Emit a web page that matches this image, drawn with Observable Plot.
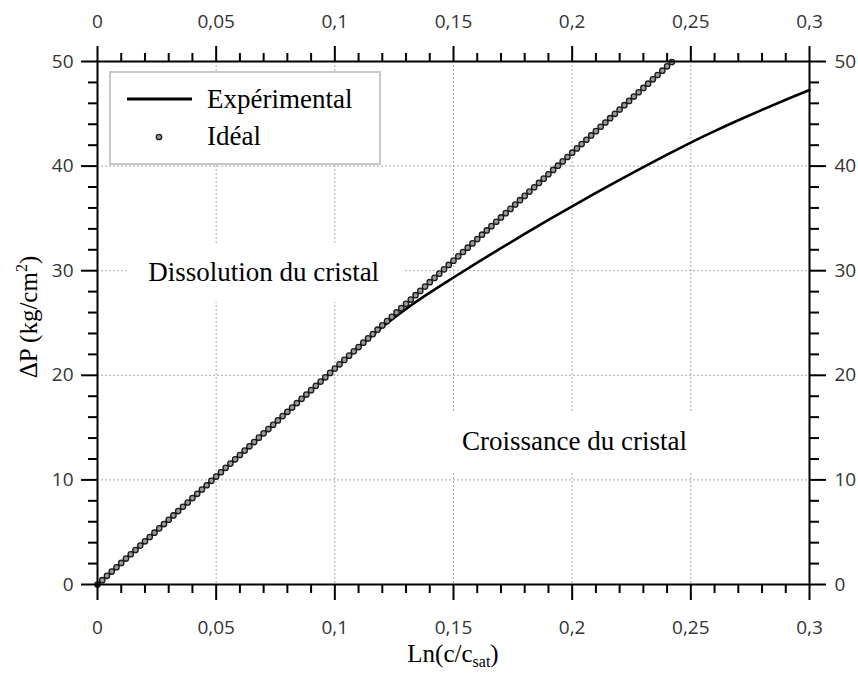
<!DOCTYPE html>
<html>
<head>
<meta charset="utf-8">
<script src="https://cdn.jsdelivr.net/npm/d3@7"></script>
<script src="https://cdn.jsdelivr.net/npm/@observablehq/plot@0.6"></script>
<style>
  html, body { margin: 0; padding: 0; background: white; }
</style>
</head>
<body>
<div id="chart"></div>
<script>
// ---- Data ----
const xTicks = [0, 0.05, 0.1, 0.15, 0.2, 0.25, 0.3];
const xTickLabels = ["0", "0,05", "0,1", "0,15", "0,2", "0,25", "0,3"];
const xMinorTicks = [0.01,0.02,0.03,0.04,0.06,0.07,0.08,0.09,0.11,0.12,0.13,0.14,0.16,0.17,0.18,0.19,0.21,0.22,0.23,0.24,0.26,0.27,0.28,0.29];
const yTicks = [0, 10, 20, 30, 40, 50];
const yMinorTicks = [2,4,6,8,12,14,16,18,22,24,26,28,32,34,36,38,42,44,46,48];

const expX = [0, 0.02, 0.04, 0.06, 0.08, 0.10, 0.11, 0.12, 0.13, 0.14, 0.15, 0.16, 0.17, 0.18, 0.19, 0.20, 0.21, 0.22, 0.23, 0.24, 0.25, 0.26, 0.27, 0.28, 0.29, 0.30];
const expY = [0, 4.13, 8.26, 12.38, 16.51, 20.64, 22.68, 24.62, 26.35, 27.90, 29.35, 30.77, 32.16, 33.52, 34.85, 36.15, 37.43, 38.68, 39.90, 41.09, 42.25, 43.34, 44.38, 45.38, 46.34, 47.27];

// Ideal points
const idealX = [0,0.002,0.004,0.006,0.008,0.01,0.012,0.014,0.016,0.018,0.02,0.022,0.024,0.026,0.028,0.03,0.032,0.034,0.036,0.038,0.04,0.042,0.044,0.046,0.048,0.05,0.052,0.054,0.056,0.058,0.06,0.062,0.064,0.066,0.068,0.07,0.072,0.074,0.076,0.078,0.08,0.082,0.084,0.086,0.088,0.09,0.092,0.094,0.096,0.098,0.1,0.102,0.104,0.106,0.108,0.11,0.112,0.114,0.116,0.118,0.12,0.122,0.124,0.126,0.128,0.13,0.132,0.134,0.136,0.138,0.14,0.142,0.144,0.146,0.148,0.15,0.152,0.154,0.156,0.158,0.16,0.162,0.164,0.166,0.168,0.17,0.172,0.174,0.176,0.178,0.18,0.182,0.184,0.186,0.188,0.19,0.192,0.194,0.196,0.198,0.2,0.202,0.204,0.206,0.208,0.21,0.212,0.214,0.216,0.218,0.22,0.222,0.224,0.226,0.228,0.23,0.232,0.234,0.236,0.238,0.24,0.242];
const idealY = [0,0.41,0.83,1.24,1.65,2.06,2.48,2.89,3.30,3.72,4.13,4.54,4.95,5.37,5.78,6.19,6.60,7.02,7.43,7.84,8.26,8.67,9.08,9.49,9.91,10.32,10.73,11.15,11.56,11.97,12.38,12.80,13.21,13.62,14.04,14.45,14.86,15.27,15.69,16.10,16.51,16.92,17.34,17.75,18.16,18.58,18.99,19.40,19.81,20.23,20.64,21.05,21.47,21.88,22.29,22.70,23.12,23.53,23.94,24.36,24.77,25.18,25.59,26.01,26.42,26.83,27.24,27.66,28.07,28.48,28.90,29.31,29.72,30.13,30.55,30.96,31.37,31.79,32.20,32.61,33.02,33.44,33.85,34.26,34.68,35.09,35.50,35.91,36.33,36.74,37.15,37.56,37.98,38.39,38.80,39.22,39.63,40.04,40.45,40.87,41.28,41.69,42.11,42.52,42.93,43.34,43.76,44.17,44.58,45.00,45.41,45.82,46.23,46.65,47.06,47.47,47.88,48.30,48.71,49.12,49.54,49.95];

const annotText = ["Dissolution du cristal", "Croissance du cristal"];
const annotX = [0.07, 0.201];
const annotY = [29.8, 13.65];

const seriesNames = ["Expérimental", "Idéal"];
const xTitle = ["Ln(c/c", "sat", ")"];
const yTitle = ["ΔP (kg/cm", "2", ")"];

// ---- Build tables ----
const expData = expX.map((x, i) => ({x, y: expY[i]}));
const idealData = idealX.map((x, i) => ({x, y: idealY[i]}));
const annotData = annotText.map((t, i) => ({text: t, x: annotX[i], y: annotY[i]}));

const fmtX = d => { const i = xTicks.findIndex(v => Math.abs(v - d) < 1e-9); return i >= 0 ? xTickLabels[i] : ""; };
const blank = () => "";

const gridStyle = {stroke: "#a8a8a8", strokeOpacity: 1, strokeWidth: 1, strokeDasharray: "2,2"};
const serif = "'Liberation Serif', 'Times New Roman', serif";

const chart = Plot.plot({
  width: 858, height: 673,
  marginLeft: 97, marginRight: 49, marginTop: 61, marginBottom: 89,
  x: {domain: [0, 0.3]},
  y: {domain: [0, 50]},
  style: {fontFamily: "'Open Sans', sans-serif", fontSize: "19px", color: "#333", background: "white"},
  marks: [
    Plot.gridX({ticks: xTicks.slice(1, -1), ...gridStyle}),
    Plot.gridY({ticks: yTicks.slice(1, -1), ...gridStyle}),
    Plot.text(annotData, {x: "x", y: "y", text: "text", fontFamily: serif, fontSize: 27, fill: "black", className: "annot"}),
    Plot.line(expData, {x: "x", y: "y", stroke: "black", strokeWidth: 2.6, curve: "catmull-rom"}),
    Plot.dot(idealData, {x: "x", y: "y", r: 2.7, fill: "#999", stroke: "#1a1a1a", strokeWidth: 1.3}),
    Plot.frame({stroke: "black", strokeWidth: 2}),
    // major ticks
    Plot.axisX({anchor: "bottom", ticks: xTicks, tickSize: 16, tickPadding: 20, tickFormat: fmtX, stroke: "black", strokeWidth: 2, label: null}),
    Plot.axisX({anchor: "top", ticks: xTicks, tickSize: 16, tickPadding: 18, tickFormat: fmtX, stroke: "black", strokeWidth: 2, label: null}),
    Plot.axisY({anchor: "left", ticks: yTicks, tickSize: 16, tickPadding: 8, stroke: "black", strokeWidth: 2, label: null}),
    Plot.axisY({anchor: "right", ticks: yTicks, tickSize: 16, tickPadding: 9, stroke: "black", strokeWidth: 2, label: null}),
    // minor ticks
    Plot.axisX({anchor: "bottom", ticks: xMinorTicks, tickSize: 9, tickFormat: blank, stroke: "black", strokeWidth: 2, label: null}),
    Plot.axisX({anchor: "top", ticks: xMinorTicks, tickSize: 9, tickFormat: blank, stroke: "black", strokeWidth: 2, label: null}),
    Plot.axisY({anchor: "left", ticks: yMinorTicks, tickSize: 9, tickFormat: blank, stroke: "black", strokeWidth: 2, label: null}),
    Plot.axisY({anchor: "right", ticks: yMinorTicks, tickSize: 9, tickFormat: blank, stroke: "black", strokeWidth: 2, label: null})
  ]
});

document.getElementById("chart").appendChild(chart);
const svg = d3.select(chart);

// White boxes behind annotations (hide gridlines)
const annotG = chart.querySelector("g.annot") || Array.from(chart.querySelectorAll("g[aria-label='text']"))[0];
if (annotG) {
  const parent = annotG.parentNode;
  annotG.querySelectorAll("text").forEach(t => {
    const b = t.getBBox();
    let tx = 0, ty = 0;
    const tr = t.getAttribute("transform");
    if (tr) { const m = tr.match(/translate\(([-\d.]+),\s*([-\d.]+)\)/); if (m) { tx = +m[1]; ty = +m[2]; } }
    const r = document.createElementNS("http://www.w3.org/2000/svg", "rect");
    r.setAttribute("x", b.x + tx - 21);
    r.setAttribute("y", b.y + ty - 14);
    r.setAttribute("width", b.width + 45);
    r.setAttribute("height", b.height + 29);
    r.setAttribute("fill", "white");
    parent.insertBefore(r, annotG);
  });
}

// Legend
const leg = svg.append("g").attr("text-anchor", "start");
leg.append("rect").attr("x", 110).attr("y", 72).attr("width", 270).attr("height", 92)
  .attr("fill", "white").attr("stroke", "#c8c8c8").attr("stroke-width", 2);
leg.append("line").attr("x1", 127).attr("x2", 192).attr("y1", 99).attr("y2", 99)
  .attr("stroke", "black").attr("stroke-width", 3);
leg.append("circle").attr("cx", 159).attr("cy", 137).attr("r", 2.7)
  .attr("fill", "#999").attr("stroke", "#1a1a1a").attr("stroke-width", 1.3);
leg.append("text").attr("x", 207).attr("y", 108).attr("text-anchor", "start").text(seriesNames[0])
  .style("font-family", serif).style("font-size", "27px").attr("fill", "black");
leg.append("text").attr("x", 207).attr("y", 145).attr("text-anchor", "start").text(seriesNames[1])
  .style("font-family", serif).style("font-size", "27px").attr("fill", "black");

// Axis titles
const xt = svg.append("text").attr("x", 453).attr("y", 662).attr("text-anchor", "middle")
  .style("font-family", serif).style("font-size", "25px").attr("fill", "black");
xt.append("tspan").text(xTitle[0]);
xt.append("tspan").attr("dy", 5).style("font-size", "16px").text(xTitle[1]);
xt.append("tspan").attr("dy", -5).text(xTitle[2]);

const yt = svg.append("text").attr("transform", "translate(37,317) rotate(-90)").attr("text-anchor", "middle")
  .style("font-family", serif).style("font-size", "25px").attr("fill", "black");
yt.append("tspan").text(yTitle[0]);
yt.append("tspan").attr("dy", -10).style("font-size", "16px").text(yTitle[1]);
yt.append("tspan").attr("dy", 10).text(yTitle[2]);
</script>
</body>
</html>
